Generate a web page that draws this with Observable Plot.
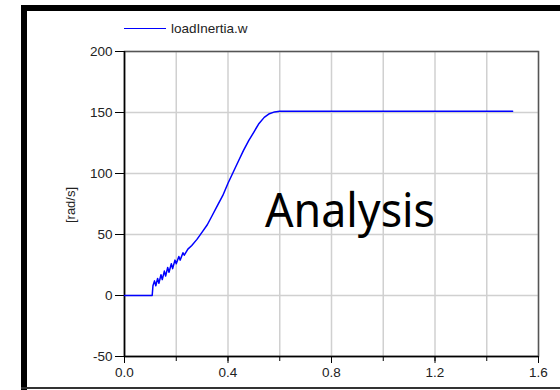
<!DOCTYPE html>
<html>
<head>
<meta charset="utf-8">
<script src="https://cdn.jsdelivr.net/npm/d3@7"></script>
<script src="https://cdn.jsdelivr.net/npm/@observablehq/plot@0.6"></script>
<style>
  html, body { margin: 0; padding: 0; background: #fff; }
  #wrap { position: relative; width: 560px; height: 390px; overflow: hidden; font-family: "Liberation Sans", Arial, sans-serif; }
  #wrap svg.plot { position: absolute; left: 0; top: 0; }
  .bd { position: absolute; background: #000; }
  #legend { position: absolute; left: 124px; top: 19px; height: 18px; display: flex; align-items: center; font-size: 13.5px; color: #222; }
  #legend .sw { width: 42px; height: 0; border-top: 1.5px solid #0000ff; margin-right: 5px; }
  #overlay { position: absolute; left: 0; top: 0; pointer-events: none; }
</style>
</head>
<body>
<div id="wrap">
  <div id="legend"><span class="sw"></span><span>loadInertia.w</span></div>
</div>
<script>
// Data
const seriesName = "loadInertia.w";
const time = [0, 0.107, 0.110, 0.116, 0.121, 0.128, 0.133, 0.141, 0.146, 0.154, 0.159, 0.167, 0.172, 0.181, 0.186, 0.195, 0.200, 0.210, 0.215, 0.226, 0.231, 0.245, 0.26, 0.28, 0.30, 0.32, 0.34, 0.36, 0.38, 0.40, 0.42, 0.44, 0.46, 0.48, 0.50, 0.52, 0.54, 0.56, 0.58, 0.60, 1.50];
const speed = [0, 0, 8, 12, 8, 14, 10, 17, 13, 20, 16, 23, 19, 26, 22, 29, 26, 32, 29, 35, 33, 38, 41, 46, 52, 58, 66, 74, 82, 92, 101, 110, 119, 127, 134, 141, 146, 149, 150.5, 151, 151];
const xTickLabels = [0, 0.4, 0.8, 1.2, 1.6];
const xMinorTicks = [0, 0.2, 0.4, 0.6, 0.8, 1.0, 1.2, 1.4, 1.6];
const yTicks = [-50, 0, 50, 100, 150, 200];
const yLabel = "[rad/s]";
const watermark = "Analysis";

const data = time.map((t, i) => ({t, v: speed[i]}));

const chart = Plot.plot({
  width: 560,
  height: 390,
  marginLeft: 124,
  marginRight: 22,
  marginTop: 51,
  marginBottom: 34,
  style: {fontFamily: "Liberation Sans, Arial, sans-serif", fontSize: "13.5px", color: "#222", background: "transparent"},
  x: {domain: [0, 1.6]},
  y: {domain: [-50, 200]},
  marks: [
    Plot.gridX(xMinorTicks, {stroke: "#d0d0d0", strokeOpacity: 1, strokeWidth: 1.5}),
    Plot.gridY(yTicks, {stroke: "#d0d0d0", strokeOpacity: 1, strokeWidth: 1.5}),
    Plot.frame({stroke: "#555", strokeWidth: 1.5}),
    Plot.ruleX([0], {stroke: "#000", strokeWidth: 1.5}),
    Plot.ruleY([-50], {stroke: "#000", strokeWidth: 1.5}),
    Plot.axisY(yTicks, {tickSize: 9, tickPadding: 3, tickFormat: d => String(d), label: null, stroke: "#000", fill: "#222", fontSize: 13.5}),
    Plot.axisX(xMinorTicks, {tickSize: 5, tickFormat: () => "", label: null, stroke: "#000"}),
    Plot.axisX(xTickLabels, {tickSize: 7, tickPadding: 4, tickFormat: d3.format(".1f"), label: null, stroke: "#000", fill: "#222", fontSize: 13.5}),
    Plot.line(data, {x: "t", y: "v", stroke: "#0000ff", strokeWidth: 1.5})
  ]
});
chart.classList.add("plot");
const wrap = document.getElementById("wrap");
wrap.appendChild(chart);

const ns = "http://www.w3.org/2000/svg";
const ov = document.createElementNS(ns, "svg");
ov.setAttribute("id", "overlay");
ov.setAttribute("width", 560);
ov.setAttribute("height", 390);
const yl = document.createElementNS(ns, "text");
yl.setAttribute("transform", "translate(75,205) rotate(-90)");
yl.setAttribute("text-anchor", "middle");
yl.setAttribute("font-family", "Liberation Sans, Arial, sans-serif");
yl.setAttribute("font-size", "13");
yl.setAttribute("fill", "#222");
yl.textContent = yLabel;
ov.appendChild(yl);
const wm = document.createElementNS(ns, "text");
wm.setAttribute("x", 265);
wm.setAttribute("y", 227);
wm.setAttribute("font-family", "Noto Sans, sans-serif");
wm.setAttribute("font-size", "48");
wm.setAttribute("textLength", "170");
wm.setAttribute("lengthAdjust", "spacingAndGlyphs");
wm.setAttribute("fill", "#000");
wm.textContent = watermark;
ov.appendChild(wm);
wrap.appendChild(ov);

function border(l, t, w, h, c) {
  const d = document.createElement("div");
  d.className = "bd";
  Object.assign(d.style, {left: l + "px", top: t + "px", width: w + "px", height: h + "px", background: c});
  wrap.appendChild(d);
}
border(21, 5, 539, 6, "#000");
border(21, 5, 6, 385, "#000");
border(21, 387, 539, 2, "#333");
</script>
</body>
</html>
